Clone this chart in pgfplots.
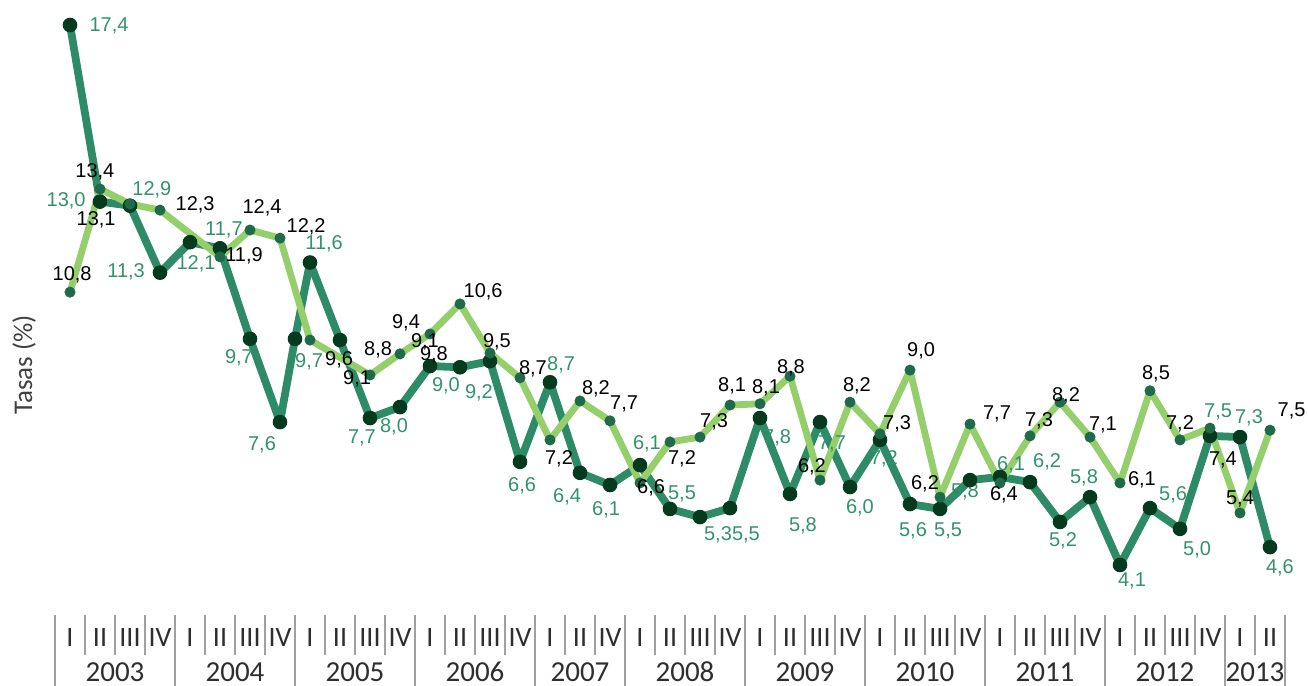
\documentclass[border=0pt]{standalone}
\usepackage{pgfplots}
\pgfplotsset{compat=1.18}
\usepackage{pgfplotstable}
\usepackage{fontspec}
\setmainfont{Liberation Sans}
\newfontfamily\carlito{Carlito}
\definecolor{darkline}{HTML}{2E8B67}
\definecolor{lightline}{HTML}{94CF6B}
\definecolor{darkmark}{HTML}{063A1E}
\definecolor{lightmark}{HTML}{1E6A4A}
\definecolor{labg}{HTML}{31936C}
\definecolor{sepgray}{HTML}{A0A0A0}
\definecolor{axtext}{HTML}{2E2E2E}

\pgfplotstableread{
x y
0 17.40
1 13.05
2 12.95
3 11.30
4 12.05
5 11.90
6 9.67
7 7.62
7.5 9.67
8 11.55
9 9.64
10 7.72
11 7.99
12 9.00
13 8.97
14 9.12
15 6.64
16 8.60
17 6.37
18 6.07
19 6.56
20 5.48
21 5.28
22 5.50
23 7.72
24 5.85
25 7.62
26 6.02
27 7.18
28 5.60
29 5.48
30 6.19
31 6.27
32 6.14
33 5.16
34 5.77
35 4.10
36 5.50
37 4.99
38 7.28
39 7.25
40 4.54
}\darkdata

\pgfplotstableread{
x y
0 10.82
1 13.36
2 12.99
3 12.84
5 11.69
6 12.35
7 12.15
8 9.64
10 8.78
11 9.30
12 9.79
13 10.53
14 9.32
15 8.71
16 7.18
17 8.14
18 7.65
19 6.12
20 7.13
21 7.25
22 8.04
23 8.07
24 8.75
25 6.19
26 8.11
27 7.33
28 8.90
29 5.77
30 7.57
31 6.12
32 7.28
33 8.11
34 7.25
35 6.12
36 8.39
37 7.18
38 7.47
39 5.38
40 7.42
}\lightdata

\pgfplotstableread{
x y t
1.30 17.38 17,4
2.73 13.34 12,9
-0.13 13.07 13,0
5.13 12.35 11,7
8.47 12.01 11,6
1.87 11.32 11,3
4.20 11.51 12,1
5.63 9.20 9,7
6.40 7.06 7,6
7.97 9.10 9,7
12.53 8.51 9,0
13.63 8.34 9,2
9.73 7.23 7,7
10.80 7.50 8,0
16.37 9.03 8,7
15.07 6.05 6,6
16.57 5.77 6,4
17.87 5.45 6,1
19.23 7.08 6,1
20.40 5.85 5,5
21.60 4.84 5,3
22.53 4.84 5,5
23.57 7.23 7,8
24.43 5.06 5,8
25.40 7.08 7,7
26.33 5.50 6,0
27.13 6.71 7,2
28.10 4.94 5,6
29.27 4.94 5,5
29.83 5.90 5,8
31.37 6.56 6,1
32.57 6.64 6,2
33.10 4.69 5,2
33.80 6.24 5,8
35.40 3.71 4,1
36.77 5.82 5,6
37.57 4.47 5,0
38.27 7.87 7,5
39.30 7.72 7,3
40.33 4.03 4,6
}\greenlabels

\pgfplotstableread{
x y t
0.83 13.78 13,4
0.87 12.60 13,1
4.17 12.97 12,3
6.40 12.89 12,4
7.87 12.42 12,2
0.07 11.24 10,8
5.80 11.71 11,9
8.97 9.15 9,6
9.57 8.68 9,1
10.27 9.39 8,8
11.20 10.06 9,4
11.83 9.59 9,1
12.13 9.27 9,8
13.77 10.82 10,6
14.23 9.59 9,5
15.43 8.93 8,7
17.53 8.43 8,2
18.47 8.07 7,7
16.30 6.71 7,2
19.37 6.00 6,6
20.40 6.71 7,2
21.47 7.62 7,3
22.07 8.51 8,1
23.20 8.46 8,1
24.03 8.95 8,8
24.73 6.51 6,2
26.23 8.51 8,2
27.57 7.57 7,3
28.37 9.37 9,0
28.50 6.09 6,2
30.90 7.82 7,7
31.13 5.82 6,4
32.30 7.65 7,3
33.20 8.26 8,2
34.43 7.55 7,1
35.73 6.19 6,1
36.20 8.80 8,5
37.00 7.57 7,2
38.43 6.69 7,4
39.00 5.73 5,4
40.72 7.89 7,5
}\blacklabels

\begin{document}
\begin{tikzpicture}
\begin{axis}[
  at={(27.5pt,35.5pt)}, anchor=south west,
  scale only axis, width=615pt, height=307.5pt,
  xmin=-0.5, xmax=40.5, ymin=2.868, ymax=18.016,
  clip=false,
  axis x line*=bottom, axis y line=none,
  x axis line style={draw=none},
  ytick=\empty,
  xtick={0,...,40},
  xticklabels={I,II,III,IV,I,II,III,IV,I,II,III,IV,I,II,III,IV,I,II,IV,I,II,III,IV,I,II,III,IV,I,II,III,IV,I,II,III,IV,I,II,III,IV,I,II},
  xtick align=outside,
  major tick length=0pt,
  minor xtick={-0.5,0.5,...,40.5},
  minor tick length=20pt,
  tick style={draw=sepgray, line width=1pt},
  extra x ticks={-0.5,3.5,7.5,11.5,15.5,18.5,22.5,26.5,30.5,34.5,38.5,40.5},
  extra x tick labels={{},{},{},{},{},{},{},{},{},{},{},{}},
  extra x tick style={major tick length=35.5pt},
  xticklabel style={font=\carlito\fontsize{14}{14}\selectfont, text=axtext, anchor=center, yshift=-11.5pt},
]
% green labels (under lines)
\addplot[only marks, mark=*, mark size=0pt, mark options={draw=none,fill=none},
  point meta=explicit symbolic, nodes near coords,
  nodes near coords style={anchor=center, inner sep=0pt, text=labg, font=\fontsize{10}{11}\selectfont}]
  table[x=x, y=y, meta=t] {\greenlabels};
% dark series
\addplot[darkline, line width=3.9pt, line join=round, mark=*, mark size=3.4pt,
  mark options={fill=darkmark, draw=darkmark, line width=0.5pt}]
  table[x=x, y=y] {\darkdata};
% light series
\addplot[lightline, line width=3.4pt, line join=round, mark=*, mark size=2.6pt,
  mark options={fill=lightmark, draw=lightmark, line width=0.3pt}]
  table[x=x, y=y] {\lightdata};
% black labels
\addplot[only marks, mark=*, mark size=0pt, mark options={draw=none,fill=none},
  point meta=explicit symbolic, nodes near coords,
  nodes near coords style={anchor=center, inner sep=0pt, text=black, font=\fontsize{10}{11}\selectfont}]
  table[x=x, y=y, meta=t] {\blacklabels};
% year labels
\node[font=\carlito\fontsize{14.5}{15}\selectfont, text=axtext, yshift=-28.5pt] at (axis cs:1.5,2.868) {2003};
\node[font=\carlito\fontsize{14.5}{15}\selectfont, text=axtext, yshift=-28.5pt] at (axis cs:5.5,2.868) {2004};
\node[font=\carlito\fontsize{14.5}{15}\selectfont, text=axtext, yshift=-28.5pt] at (axis cs:9.5,2.868) {2005};
\node[font=\carlito\fontsize{14.5}{15}\selectfont, text=axtext, yshift=-28.5pt] at (axis cs:13.5,2.868) {2006};
\node[font=\carlito\fontsize{14.5}{15}\selectfont, text=axtext, yshift=-28.5pt] at (axis cs:17,2.868) {2007};
\node[font=\carlito\fontsize{14.5}{15}\selectfont, text=axtext, yshift=-28.5pt] at (axis cs:20.5,2.868) {2008};
\node[font=\carlito\fontsize{14.5}{15}\selectfont, text=axtext, yshift=-28.5pt] at (axis cs:24.5,2.868) {2009};
\node[font=\carlito\fontsize{14.5}{15}\selectfont, text=axtext, yshift=-28.5pt] at (axis cs:28.5,2.868) {2010};
\node[font=\carlito\fontsize{14.5}{15}\selectfont, text=axtext, yshift=-28.5pt] at (axis cs:32.5,2.868) {2011};
\node[font=\carlito\fontsize{14.5}{15}\selectfont, text=axtext, yshift=-28.5pt] at (axis cs:36.5,2.868) {2012};
\node[font=\carlito\fontsize{14.5}{15}\selectfont, text=axtext, yshift=-28.5pt] at (axis cs:39.5,2.868) {2013};
\end{axis}
\node[rotate=90, font=\carlito\fontsize{13.5}{14}\selectfont, text=black!75] at (12pt,160.5pt) {Tasas (\%)};
\pgfresetboundingbox
\path[use as bounding box] (0,0) rectangle (654pt,343pt);
\end{tikzpicture}
\end{document}
